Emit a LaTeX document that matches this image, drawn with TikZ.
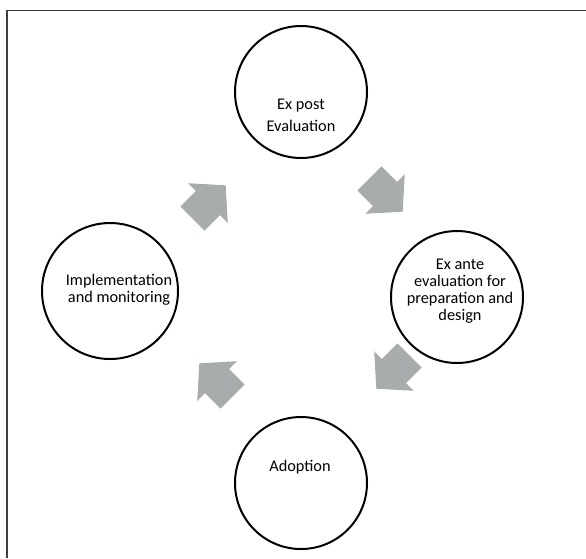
\documentclass[tikz,border=0pt]{standalone}
\usepackage{fontspec}
\setmainfont{Carlito}
\begin{document}
\begin{tikzpicture}[x=1pt,y=-1pt,
  stage/.style={circle,draw=black,line width=2pt,minimum size=132pt,inner sep=0pt},
  lbl/.style={align=center,font=\fontsize{16.3}{16.8}\selectfont,inner sep=0pt},
  blockarrow/.style={fill=arrowgray,draw=none}]
\definecolor{arrowgray}{HTML}{A9ACAC}
\definecolor{framegray}{HTML}{404040}
\useasboundingbox (0,0) rectangle (586,558);
\draw[framegray,line width=1.6pt] (586,10.5) -- (7,10.5) -- (7,558);
% circles
\node[stage] (top) at (301,92) {};
\node[stage] (right) at (457,297) {};
\node[stage] (bottom) at (301,483) {};
\node[stage,minimum size=136pt] (left) at (110,291) {};
% labels
\node[lbl] (toplbl) at (301,115) {Ex post\\[5pt]Evaluation};
\node[lbl] (rightlbl) at (460,291) {Ex ante\\evaluation for\\preparation and\\design};
\node[lbl] (bottomlbl) at (300,467) {Adoption};
\node[lbl] (leftlbl) at (119,290) {Implementation\\and monitoring};
% block arrows
\newcommand{\blockarr}[3]{%
  \begin{scope}[shift={(#1,#2)},rotate=#3]
    \fill[blockarrow] (-22,-17) -- (0,-17) -- (0,-28) -- (25,0) -- (0,28) -- (0,17) -- (-22,17) -- cycle;
  \end{scope}}
\blockarr{208}{203}{45}
\blockarr{385}{194}{-45}
\blockarr{394}{371}{-135}
\blockarr{217}{381}{135}
\end{tikzpicture}
\end{document}
